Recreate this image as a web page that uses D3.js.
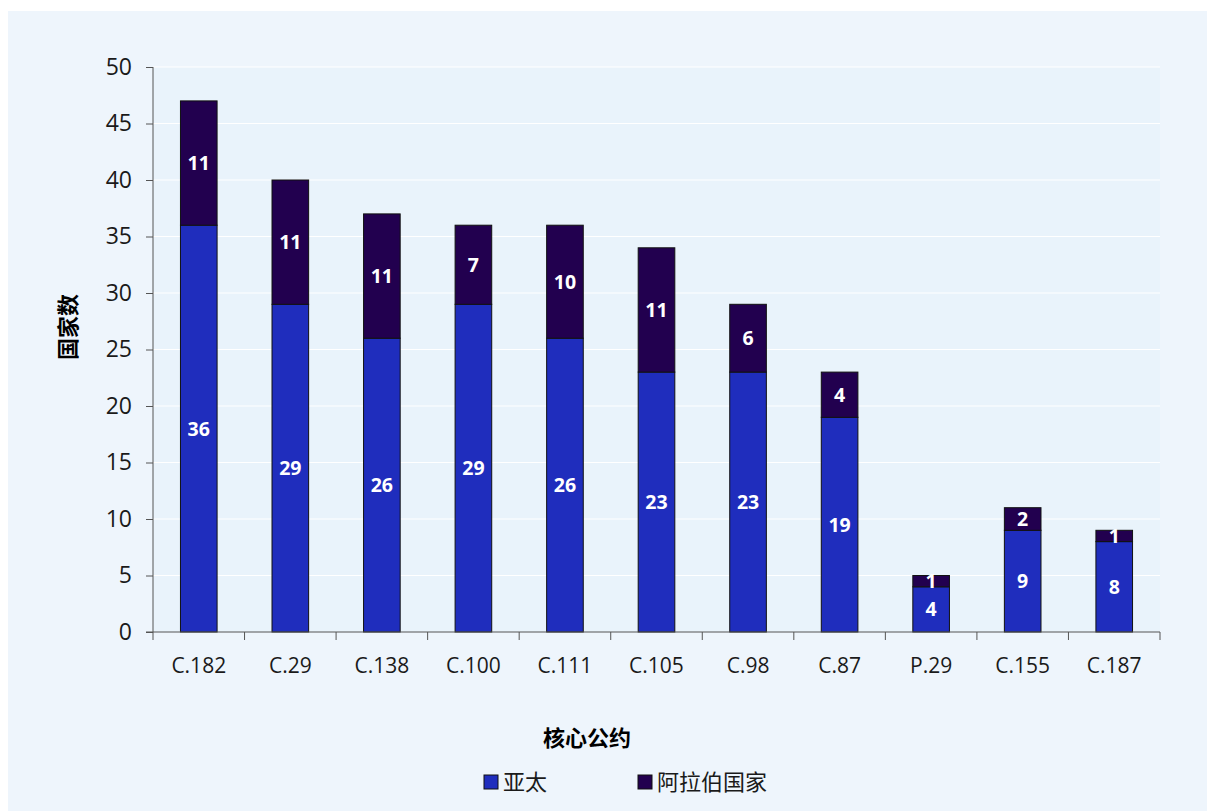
<!DOCTYPE html>
<html>
<head>
<meta charset="utf-8">
<script src="https://cdn.jsdelivr.net/npm/d3@7"></script>
<style>
  body { margin: 0; background: #ffffff; }
  svg { display: block; font-family: "Open Sans", "Noto Sans", "Noto Sans CJK SC", sans-serif; }
</style>
</head>
<body>
<div id="chart"></div>
<script>
var categories = ["C.182", "C.29", "C.138", "C.100", "C.111", "C.105", "C.98", "C.87", "P.29", "C.155", "C.187"];
var asiaPacific = [36, 29, 26, 29, 26, 23, 23, 19, 4, 9, 8];
var arabStates = [11, 11, 11, 7, 10, 11, 6, 4, 1, 2, 1];
var seriesNames = ["亚太", "阿拉伯国家"];
var seriesColors = ["#1f2dbd", "#22004f"];
var yTicks = [0, 5, 10, 15, 20, 25, 30, 35, 40, 45, 50];

var svg = d3.select("#chart").append("svg").attr("width", 1207).attr("height", 811);

// outer panel
svg.append("rect")
   .attr("x", 8).attr("y", 11)
   .attr("width", 1199).attr("height", 800)
   .attr("fill", "#eef5fc");

var plotLeft = 153, plotTop = 67, width = 1007, height = 565;

var g = svg.append("g").attr("transform", "translate(" + plotLeft + "," + plotTop + ")");

g.append("rect").attr("width", width).attr("height", height).attr("fill", "#e9f3fb");

var xScale = d3.scaleBand().domain(categories).range([0, width]).paddingInner(0.6).paddingOuter(0.3);
var yScale = d3.scaleLinear().domain([0, 50]).range([height, 0]);

// grid lines
g.selectAll(".grid")
 .data(yTicks.filter(function(d) { return d > 0; }))
 .enter().append("line")
 .attr("x1", 0).attr("x2", width)
 .attr("y1", function(d) { return yScale(d); })
 .attr("y2", function(d) { return yScale(d); })
 .attr("stroke", "#ffffff")
 .attr("stroke-width", 1.2);

var data = categories.map(function(c, i) {
    return { cat: c, s0: asiaPacific[i], s1: arabStates[i] };
});
var stacked = d3.stack().keys(["s0", "s1"])(data);

stacked.forEach(function(layer, li) {
    g.selectAll(".bar" + li)
     .data(layer)
     .enter().append("rect")
     .attr("x", function(d) { return xScale(d.data.cat); })
     .attr("y", function(d) { return yScale(d[1]); })
     .attr("width", xScale.bandwidth())
     .attr("height", function(d) { return yScale(d[0]) - yScale(d[1]); })
     .attr("fill", seriesColors[li])
     .attr("stroke", "#111111")
     .attr("stroke-width", 1);

    g.selectAll(".lbl" + li)
     .data(layer)
     .enter().append("text")
     .attr("x", function(d) { return xScale(d.data.cat) + xScale.bandwidth() / 2; })
     .attr("y", function(d) { return (yScale(d[0]) + yScale(d[1])) / 2; })
     .attr("dy", "0.36em")
     .attr("text-anchor", "middle")
     .attr("fill", "#ffffff")
     .attr("font-weight", "bold")
     .attr("font-size", "19.5px")
     .text(function(d) { return d[1] - d[0]; });
});

// y axis
var yAxis = g.append("g")
 .call(d3.axisLeft(yScale).tickValues(yTicks).tickSize(7).tickPadding(14));
yAxis.selectAll("text").attr("font-size", "23px").attr("fill", "#1a1a1a").attr("font-family", "Open Sans, sans-serif");
yAxis.selectAll("line").attr("stroke", "#555555");
yAxis.select(".domain").attr("stroke", "#555555").attr("d", "M0,0V" + height);

// x axis
var xAxis = g.append("g").attr("transform", "translate(0," + height + ")");
xAxis.append("line").attr("x1", -7).attr("x2", width).attr("stroke", "#555555");
xAxis.selectAll(".tk")
 .data(d3.range(categories.length + 1))
 .enter().append("line")
 .attr("x1", function(i) { return i * width / categories.length; })
 .attr("x2", function(i) { return i * width / categories.length; })
 .attr("y1", 0).attr("y2", 8)
 .attr("stroke", "#555555");
xAxis.selectAll(".xl")
 .data(categories)
 .enter().append("text")
 .attr("x", function(d) { return xScale(d) + xScale.bandwidth() / 2; })
 .attr("y", 41)
 .attr("text-anchor", "middle")
 .attr("font-size", "21px")
 .attr("fill", "#1a1a1a")
 .text(function(d) { return d; });

// axis titles
svg.append("text")
   .attr("transform", "translate(76,327) rotate(-90)")
   .attr("text-anchor", "middle")
   .attr("font-size", "22px")
   .attr("font-weight", "bold")
   .attr("font-family", "Noto Sans CJK SC, sans-serif")
   .text("国家数");

svg.append("text")
   .attr("x", 587).attr("y", 746)
   .attr("text-anchor", "middle")
   .attr("font-size", "22px")
   .attr("font-weight", "bold")
   .attr("font-family", "Noto Sans CJK SC, sans-serif")
   .text("核心公约");

// legend
var legendX = [484, 638];
seriesNames.forEach(function(name, i) {
    svg.append("rect")
       .attr("x", legendX[i]).attr("y", 775)
       .attr("width", 14).attr("height", 14)
       .attr("fill", seriesColors[i])
       .attr("stroke", "#111111");
    svg.append("text")
       .attr("x", legendX[i] + 19).attr("y", 790)
       .attr("font-size", "22px")
       .attr("font-family", "Noto Sans CJK SC, sans-serif")
       .attr("fill", "#1a1a1a")
       .text(name);
});
</script>
</body>
</html>
